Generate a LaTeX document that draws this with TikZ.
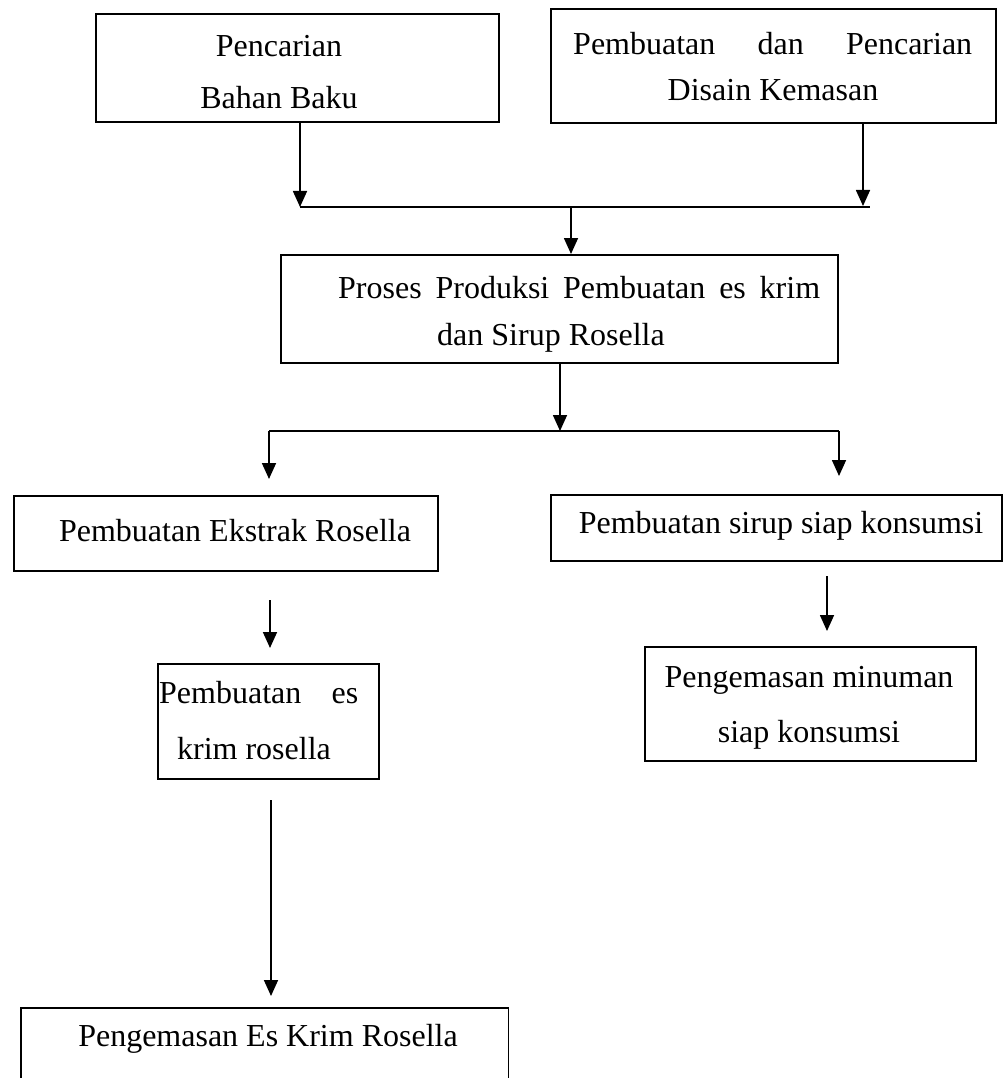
\documentclass[tikz,border=0pt]{standalone}
\usepackage{fontspec}
\setmainfont{Liberation Serif}
\usetikzlibrary{arrows.meta}
\begin{document}
\begin{tikzpicture}[x=1pt,y=-1pt,
  box/.style={draw,line width=1.7pt,inner sep=0pt,anchor=north west},
  openbox/.style={inner sep=0pt,anchor=north west},
  lbl/.style={font=\fontsize{32}{38}\selectfont,inner sep=0pt,anchor=base},
  lblw/.style={lbl,anchor=base west},
  conn/.style={line width=1.7pt},
  arr/.style={conn,-{Triangle[length=16pt,width=14pt]}}]
\useasboundingbox[fill=white] (0,0) rectangle (1002,1078);

% boxes
\node[box,minimum width=403pt,minimum height=108pt] (b1) at (95,13) {};
\node[box,minimum width=445pt,minimum height=114pt] (b2) at (550,8) {};
\node[box,minimum width=557pt,minimum height=108pt] (b3) at (280,254) {};
\node[box,minimum width=424pt,minimum height=75pt] (b4) at (13,495) {};
\node[box,minimum width=451pt,minimum height=66pt] (b5) at (550,494) {};
\node[box,minimum width=221pt,minimum height=115pt] (b6) at (157,663) {};
\node[box,minimum width=331pt,minimum height=114pt] (b7) at (644,646) {};
\node[openbox,minimum width=487pt,minimum height=70pt] (b8) at (21,1008) {};
\draw[conn] (b8.south west) -- (b8.north west) -- (b8.north east) -- (b8.south east);

% texts
\node[lbl] (t1a) at (279,57) {Pencarian};
\node[lbl] (t1b) at (279,109) {Bahan Baku};
\node[lblw] (t2a) at (573,55) {\makebox[399pt][s]{Pembuatan\hfill dan\hfill Pencarian}};
\node[lbl] (t2b) at (773,101) {Disain Kemasan};
\node[lblw] (t3a) at (338,298) {\makebox[482pt][s]{Proses\hfill Produksi\hfill Pembuatan\hfill es\hfill krim}};
\node[lblw] (t3b) at (437,345) {dan Sirup Rosella};
\node[lbl] (t4) at (235,541) {Pembuatan Ekstrak Rosella};
\node[lbl] (t5) at (781,533) {Pembuatan sirup siap konsumsi};
\node[lblw] (t6a) at (159,703) {\makebox[199pt][s]{Pembuatan\hfill es}};
\node[lbl] (t6b) at (254,759) {krim rosella};
\node[lbl] (t7a) at (809,687) {Pengemasan minuman};
\node[lbl] (t7b) at (809,742) {siap konsumsi};
\node[lbl] (t8) at (268,1046) {Pengemasan Es Krim Rosella};

% junctions
\coordinate (j1) at (300,207);
\coordinate (j2) at (870,207);
\coordinate (j3) at (571,207);
\coordinate (jr) at (863,206);
\coordinate (k1) at (269,431);
\coordinate (k2) at (839,431);
\coordinate (k3) at (560,431);
\coordinate (a4) at (269,479);
\coordinate (a5) at (839,476);
\coordinate (s6) at (270,600);
\coordinate (e6) at (270,648);
\coordinate (s7) at (827,576);
\coordinate (e7) at (827,631);
\coordinate (s8) at (271,800);
\coordinate (e8) at (271,996);

% connectors
\draw[arr] (b1.south -| j1) -- (j1);
\draw[arr] (b2.south -| jr) -- (jr);
\draw[conn] (j1) -- (j2);
\draw[arr] (j3) -- (b3.north -| j3);
\draw[arr] (b3.south -| k3) -- (k3);
\draw[conn] (k1) -- (k2);
\draw[arr] (k1) -- (a4);
\draw[arr] (k2) -- (a5);
\draw[arr] (s6) -- (e6);
\draw[arr] (s7) -- (e7);
\draw[arr] (s8) -- (e8);
\end{tikzpicture}
\end{document}
